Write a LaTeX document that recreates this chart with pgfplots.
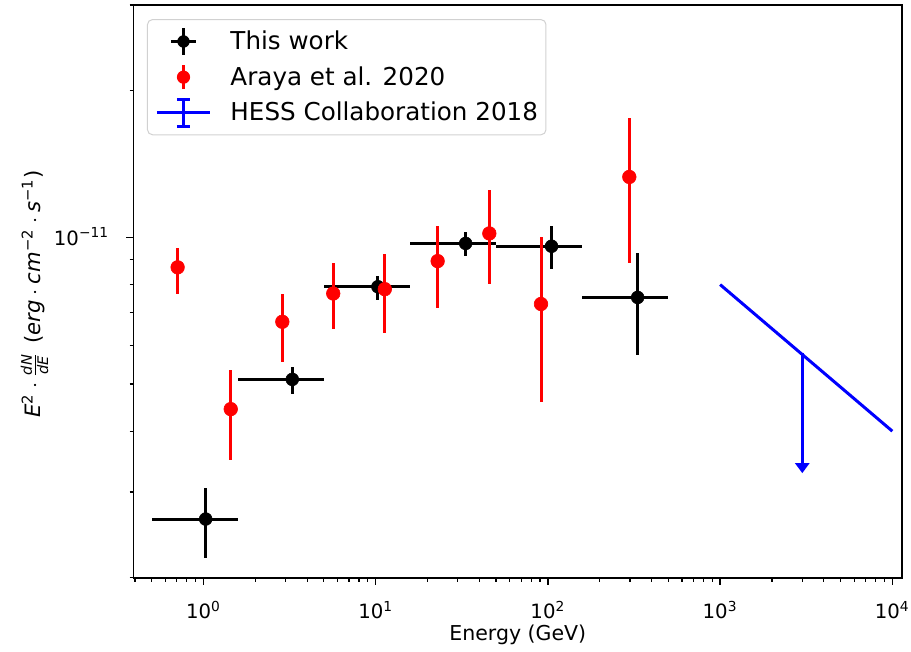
\documentclass[border=0pt]{standalone}
\usepackage{fontspec}
\setmainfont{DejaVu Sans}
\usepackage{pgfplots}
\pgfplotsset{compat=1.18}
\usepackage{pgfplotstable}
\usetikzlibrary{arrows.meta}

% Fermi-LAT SED of this work: energy, bin half-widths, flux and its errors
\pgfplotstableread{
x     xm    xp    y         ym        yp
1.03  0.53  0.55  2.64e-12  0.44e-12  0.42e-12
3.28  1.70  1.72  5.11e-12  0.34e-12  0.31e-12
10.3  5.3   5.5   7.92e-12  0.49e-12  0.41e-12
33.3  17.5  16.7  9.72e-12  0.57e-12  0.55e-12
105   55    53    9.59e-12  0.99e-12  0.96e-12
332   174   168   7.53e-12  1.80e-12  1.74e-12
}\thiswork

% Araya et al. (2020)
\pgfplotstableread{
x      y          ym        yp
0.708  8.68e-12   1.04e-12  0.84e-12
1.44   4.44e-12   0.95e-12  0.90e-12
2.87   6.71e-12   1.16e-12  0.93e-12
5.67   7.67e-12   1.20e-12  1.20e-12
11.3   7.83e-12   1.46e-12  1.41e-12
22.9   8.94e-12   1.79e-12  1.61e-12
45.7   1.019e-11  2.18e-12  2.31e-12
91.2   7.30e-12   2.70e-12  2.70e-12
297    1.331e-11  4.44e-12  4.25e-12
}\araya

\newcommand{\dotop}{\hspace{0.24em}$\cdot$\hspace{0.24em}}

\begin{document}
\begin{tikzpicture}
\begin{axis}[
  name=ax,
  scale only axis,
  width=384.2pt, height=286.35pt,
  xmode=log, ymode=log,
  xmin=0.393, xmax=11380,
  ymin=2e-12, ymax=3e-11,
  axis line style={line width=0.82pt},
  tick align=outside,
  xtick pos=bottom, ytick pos=left,
  major tick length=3.6pt, minor tick length=2.05pt,
  every tick/.style={black},
  major tick style={line width=0.82pt},
  minor tick style={line width=0.62pt},
  xtick={1,10,100,1000,10000},
  xticklabels={10\textsuperscript{0},10\textsuperscript{1},10\textsuperscript{2},10\textsuperscript{3},10\textsuperscript{4}},
  minor xtick={0.4,0.5,0.6,0.7,0.8,0.9,2,3,4,5,6,7,8,9,20,30,40,50,60,70,80,90,200,300,400,500,600,700,800,900,2000,3000,4000,5000,6000,7000,8000,9000},
  ytick={1e-11},
  yticklabels={10\textsuperscript{−11}},
  minor ytick={2e-12,3e-12,4e-12,5e-12,6e-12,7e-12,8e-12,9e-12,2e-11,3e-11},
  tick label style={font=\fontsize{9.85}{11}\selectfont},
  xticklabel style={anchor=base, inner sep=0pt, yshift=-17pt},
  yticklabel style={anchor=base east, inner sep=0pt, xshift=-8.45pt, yshift=-3.85pt},
  xlabel={Energy (GeV)},
  xlabel style={font=\fontsize{10.25}{12}\selectfont, at={(axis description cs:0.5,0)}, anchor=base, yshift=-31.2pt},
  ylabel={\textit{E}\textsuperscript{2}\dotop$\frac{\mbox{\fontsize{7.3}{7}\selectfont\itshape dN}}{\mbox{\fontsize{7.3}{7}\selectfont\itshape dE}}$\hspace{0.1em} (\textit{erg}\dotop\textit{cm}\textsuperscript{−2}\dotop\textit{s}\textsuperscript{−1})},
  ylabel style={font=\fontsize{10.6}{13}\selectfont, at={(axis description cs:-0.121,0.4954)}, anchor=base},
  legend cell align=left,
  legend style={
    at={(axis description cs:0,1)}, anchor=north west,
    xshift=6.7pt, yshift=-7pt,
    draw=black!18, line width=0.5pt, rounded corners=2.5pt, fill=white,
    font=\fontsize{12.3}{14}\selectfont,
    inner xsep=4pt, inner ysep=3.6pt,
    row sep=3.5pt, column sep=9.5pt,
    nodes={inner sep=0pt},
    cells={anchor=west}},
]

% this work: points with energy bins and flux errors
\addplot[only marks, black, mark=*, mark size=3.2pt,
  mark options={draw=black, fill=black, line width=0.3pt},
  legend image code/.code={
    \path[draw=none, fill=none] (0pt,-7pt) rectangle (26.5pt,7pt);
    \draw[black, line width=1.5pt, sharp corners] (7pt,0pt) -- (19.5pt,0pt) (13.25pt,-6.6pt) -- (13.25pt,6.6pt);
    \fill[black, draw=none] (13.25pt,0pt) circle[radius=3.1pt];
  },
  error bars/.cd, x dir=both, x explicit, y dir=both, y explicit,
  error mark=none, error bar style={black, line width=1.5pt}]
  table[x=x, y=y, x error minus=xm, x error plus=xp, y error minus=ym, y error plus=yp] {\thiswork};
\addlegendentry{This work}

% Araya et al. 2020
\addplot[only marks, red, mark=*, mark size=3.4pt,
  mark options={draw=red, fill=red, line width=0.3pt},
  legend image code/.code={
    \path[draw=none, fill=none] (0pt,-7pt) rectangle (26.5pt,7pt);
    \draw[red, line width=1.5pt, sharp corners] (13.25pt,-6pt) -- (13.25pt,6pt);
    \fill[red, draw=none] (13.25pt,0pt) circle[radius=3.3pt];
  },
  error bars/.cd, y dir=both, y explicit,
  error mark=none, error bar style={red, line width=1.5pt}]
  table[x=x, y=y, y error minus=ym, y error plus=yp] {\araya};
\addlegendentry{Araya et al. 2020}

% HESS power law and its 3 TeV upper limit
\addplot[blue, line width=1.5pt,
  legend image code/.code={
    \path[draw=none, fill=none] (0pt,-7pt) rectangle (26.5pt,7pt);
    \draw[blue, line width=1.5pt, sharp corners] (0pt,0pt) -- (26.5pt,0pt)
      (13.25pt,-6.6pt) -- (13.25pt,6.6pt)
      (10pt,-6.6pt) -- (16.5pt,-6.6pt)
      (10pt,6.6pt) -- (16.5pt,6.6pt);
  }] coordinates {(1000,8.0e-12) (10000,4.0e-12)};
\addlegendentry{HESS Collaboration 2018}
\addplot[blue, line width=1.5pt, -{Triangle[width=7pt,length=5pt]}, forget plot]
  coordinates {(3000,5.8e-12) (3000,3.28e-12)};

\end{axis}
\path (ax.south west) ++(-66.8pt,-36.65pt) rectangle ([shift={(4.5pt,2.5pt)}]ax.north east);
\end{tikzpicture}
\end{document}
